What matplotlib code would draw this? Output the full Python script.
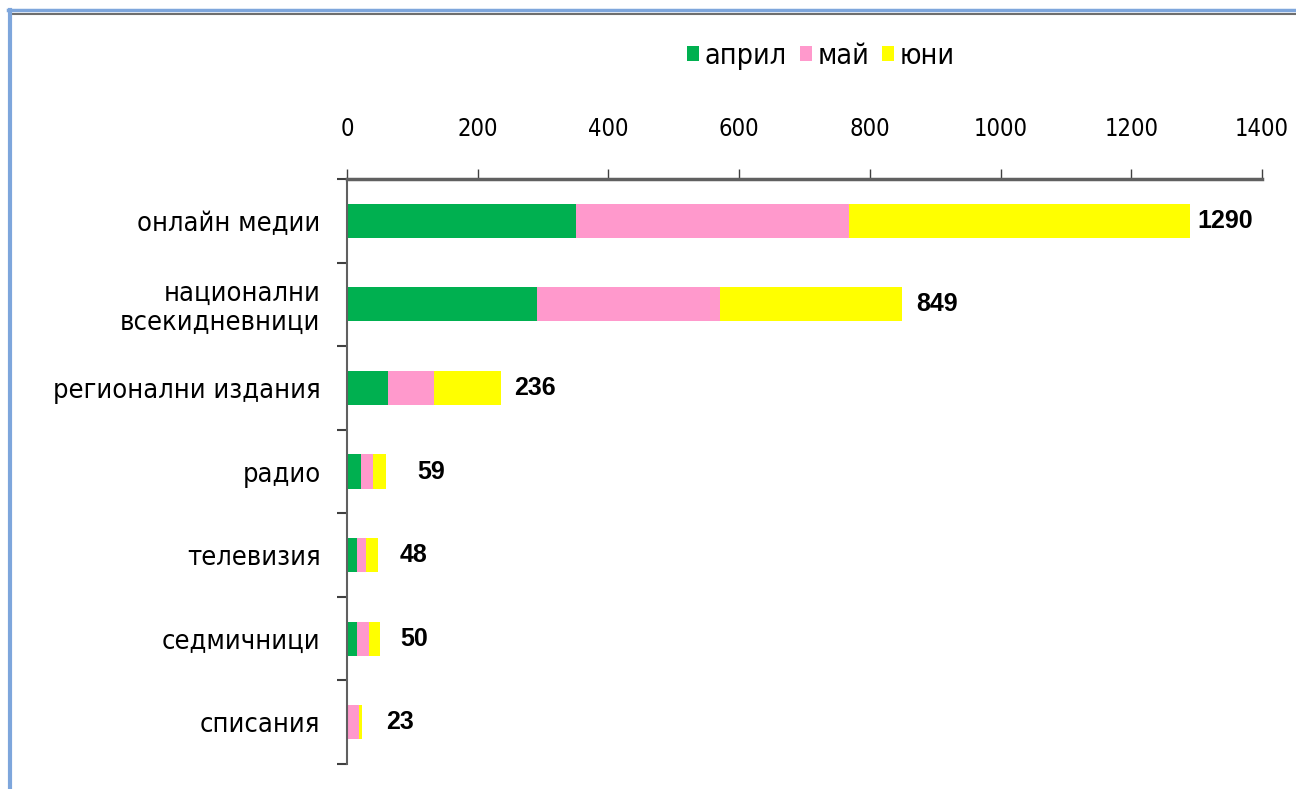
import matplotlib
matplotlib.use("Agg")
import matplotlib.pyplot as plt
from matplotlib.patches import Patch
from matplotlib.lines import Line2D

# données
categories = ["онлайн медии", "национални\nвсекидневници", "регионални издания",
              "радио", "телевизия", "седмичници", "списания"]
april = [350, 291, 62, 22, 15, 15, 1]
may = [418, 280, 71, 18, 14, 19, 18]
june = [522, 278, 103, 19, 19, 16, 4]
totals = [1290, 849, 236, 59, 48, 50, 23]
months = ["април", "май", "юни"]
xticks = [0, 200, 400, 600, 800, 1000, 1200, 1400]

colors = ["#00B050", "#FF99CC", "#FFFF00"]
label_off = [5, 10, 9, 23, 15, 15, 17]  # décalage des étiquettes (points)

narrow = ["DejaVu Sans", "Liberation Sans"]

fig = plt.figure(figsize=(12.96, 7.89), dpi=100)
fig.patch.set_facecolor("white")
ax = fig.add_axes([347 / 1296, 1 - 764 / 789, 915 / 1296, 585 / 789])

y = list(range(len(categories)))
left = [0] * len(categories)
for vals, col, name in zip([april, may, june], colors, months):
    ax.barh(y, vals, left=left, height=0.41, color=col, label=name)
    left = [l + v for l, v in zip(left, vals)]

for i, t in enumerate(totals):
    ax.annotate(str(t), xy=(t, i), xytext=(label_off[i], 0), textcoords="offset points",
                ha="left", va="center", fontsize=18, fontweight="bold",
                family=["Liberation Sans", "DejaVu Sans"])

ax.set_xlim(0, 1400)
ax.set_ylim(len(categories) - 0.5, -0.5)
ax.xaxis.tick_top()
ax.set_xticks(xticks)
ax.set_xticklabels([str(v) for v in xticks], family=narrow, fontsize=17, fontstretch="condensed")
ax.tick_params(axis="x", direction="out", length=7, width=1, color="#404040", pad=20)

ax.set_yticks(y)
ax.set_yticklabels(categories, family=narrow, fontsize=19.5, fontstretch="condensed",
                   linespacing=1.15)
ax.set_yticks([i - 0.5 for i in range(len(categories) + 1)], minor=True)
ax.tick_params(axis="y", which="major", length=0, pad=19)
ax.tick_params(axis="y", which="minor", length=7, width=1.5, color="#404040")

for s in ["right", "bottom"]:
    ax.spines[s].set_visible(False)
ax.spines["top"].set_linewidth(2.5)
ax.spines["top"].set_color("#606060")
ax.spines["left"].set_linewidth(1.5)
ax.spines["left"].set_color("#606060")

handles = [Patch(facecolor=c, edgecolor="none") for c in colors]
fig.legend(handles, months, loc="center", bbox_to_anchor=(821 / 1296, 1 - 56 / 789),
           ncol=3, frameon=False,
           prop={"family": narrow, "size": 20.5, "stretch": "condensed"},
           handlelength=0.42, handleheight=0.42, handletextpad=0.2, columnspacing=0.45)

# cadre
fig.add_artist(Line2D([8 / 1296, 1], [1 - 10 / 789] * 2, transform=fig.transFigure,
                      color="#7EA6DC", lw=2.5))
fig.add_artist(Line2D([11 / 1296, 1], [1 - 13.5 / 789] * 2, transform=fig.transFigure,
                      color="#6E6E6E", lw=1.5))
fig.add_artist(Line2D([9.5 / 1296] * 2, [0, 1 - 10 / 789], transform=fig.transFigure,
                      color="#7EA6DC", lw=3))

fig.savefig("out.png", dpi=100)
